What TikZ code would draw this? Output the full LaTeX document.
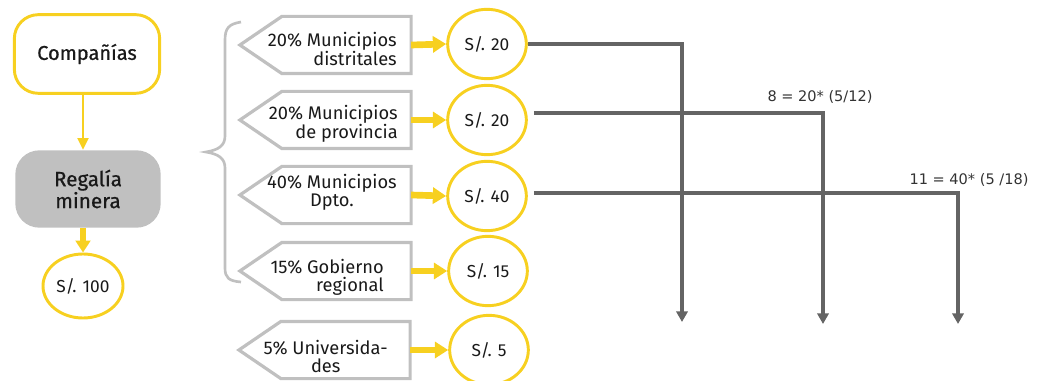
\documentclass[tikz,border=0pt]{standalone}
\usepackage{fontspec}
\setmainfont{Fira Sans}
\newfontfamily\medfont{Fira Sans}[FakeBold=0.7]
\newfontfamily\labelfont{DejaVu Sans}
\usetikzlibrary{arrows.meta,shapes.geometric,calc}
\definecolor{eyyellow}{RGB}{247,208,32}
\definecolor{boxgray}{RGB}{192,192,192}
\definecolor{regfill}{RGB}{192,192,192}
\definecolor{linegray}{RGB}{100,100,100}
\definecolor{txt}{RGB}{25,25,25}
\newcommand\pentpath[1]{\draw[penta] (#1.north east) -- (#1.south east) -- ([xshift=31.5pt]#1.south west) -- (#1.west) -- ([xshift=31.5pt]#1.north west) -- cycle;}
\begin{document}
\begin{tikzpicture}[x=0.75pt,y=-0.75pt,
  every node/.style={text=txt},
  startbox/.style={draw=eyyellow, line width=2.2pt, rounded corners=18pt, minimum width=109pt, minimum height=59pt, fill=white, font=\medfont\fontsize{15}{15.5}\selectfont},
  regbox/.style={fill=regfill, draw=none, rounded corners=18pt, minimum width=109pt, minimum height=58pt, align=center, font=\medfont\fontsize{15.5}{14.5}\selectfont},
  amount/.style={ellipse, draw=eyyellow, line width=2.2pt, minimum width=59pt, minimum height=52pt, inner sep=0pt, font=\fontsize{13}{13}\selectfont},
  pentframe/.style={minimum width=128pt, minimum height=42.5pt, inner sep=0pt, draw=none},
  penta/.style={draw=boxgray, line width=2.4pt, line join=miter},
  ptext/.style={font=\fontsize{13.7}{13.5}\selectfont, inner sep=0pt, anchor=east},
  yarrow/.style={draw=eyyellow, line width=5pt, -{Triangle[length=10pt,width=12pt]}},
  yarrowthin/.style={draw=eyyellow, line width=2.2pt, -{Triangle[length=9pt,width=8pt]}},
  gline/.style={draw=linegray, line width=2.3pt, -{Triangle[length=8pt,width=8.5pt]}},
  calclabel/.style={font=\labelfont\fontsize{10.9}{12}\selectfont, text=black!80, inner sep=0pt},
  bracestyle/.style={draw=boxgray, line width=2pt}
]
\useasboundingbox (0,0) rectangle (1045,381);

% left column
\node[startbox] (comp) at (87,54) {Compañías};
\node[regbox] (reg) at (88,189) {Regalía\\minera};
\node[amount, minimum width=60pt, minimum height=48pt, font=\fontsize{13}{13}\selectfont] (s100) at (83,286) {S/. 100};
\draw[yarrowthin] (comp.south -| s100) -- (reg.north -| s100);
\draw[yarrow, line width=4.5pt, -{Triangle[length=9pt,width=11pt]}] (reg.south -| s100) -- (s100.north);

% brace
\draw[bracestyle] (241,22) .. controls (229,24) and (225,28) .. (225,40)
  -- (225,136) .. controls (225,146) and (218,150) .. (206,152)
  .. controls (218,154) and (225,158) .. (225,168)
  -- (225,268) .. controls (225,278) and (229,281) .. (241,282);

% pentagon frames
\node[pentframe] (p1) at (325.5,45) {};
\node[pentframe] (p2) at (325.5,120) {};
\node[pentframe] (p3) at (325.5,195) {};
\node[pentframe] (p4) at (325.5,271) {};
\node[pentframe] (p5) at (324.5,350) {};
\pentpath{p1}
\pentpath{p2}
\pentpath{p3}
\pentpath{p4}
\pentpath{p5}

\node[ptext, align=right] (t1) at (397,49) {20\% Municipios\\distritales};
\node[ptext, align=right] (t2) at (398,124) {20\% Municipios\\de provincia};
\node[ptext, align=center] (t3) at (397,192) {40\% Municipios\\Dpto.};
\node[ptext, align=right] (t4) at (384,277) {15\% Gobierno\\regional};
\node[ptext, align=center] (t5) at (388,356) {5\% Universida-\\des};

% amounts
\node[amount] (c1) at (487,44) {S/. 20};
\node[amount] (c2) at (487,120) {S/. 20};
\node[amount] (c3) at (487,196) {S/. 40};
\node[amount] (c4) at (488,271) {S/. 15};
\node[amount] (c5) at (489,350) {S/. 5};

\draw[yarrow] (p1.east) -- (c1.west);
\draw[yarrow] (p2.east) -- (c2.west);
\draw[yarrow] (p3.east) -- (c3.west);
\draw[yarrow] (p4.east) -- (c4.west);
\draw[yarrow] (p5.east) -- (c5.west);

% distribution lines
\coordinate (d1) at (682,322);
\coordinate (d2) at (823,324);
\coordinate (d3) at (958,324);
\draw[gline] (c1.east) -| (d1);
\draw[gline] ([shift={(6,-7)}]c2.east) -| (d2);
\draw[gline] ([shift={(6,-3)}]c3.east) -| (d3);

\node[calclabel] (l1) at (820,97) {8 = 20* (5/12)};
\node[calclabel] (l2) at (969,180) {11 = 40* (5 /18)};
\end{tikzpicture}
\end{document}
